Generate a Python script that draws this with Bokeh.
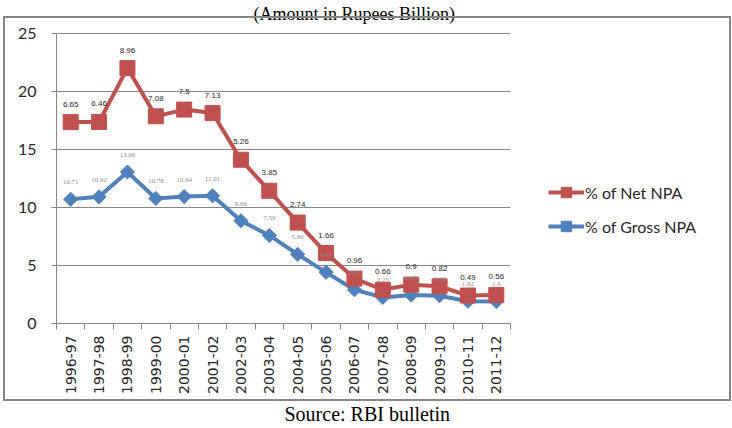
import numpy as np
from bokeh.plotting import figure
from bokeh.models import (ColumnDataSource, Range1d, FixedTicker, Legend, LegendItem,
                          LabelSet, Label, Title, InlineStyleSheet)
from bokeh.core.properties import value
from bokeh.transform import stack
from bokeh.embed import file_html
from bokeh.resources import INLINE

# ---- data ----
years = ["1996-97", "1997-98", "1998-99", "1999-00", "2000-01", "2001-02",
         "2002-03", "2003-04", "2004-05", "2005-06", "2006-07", "2007-08",
         "2008-09", "2009-10", "2010-11", "2011-12"]
gross_npa = [10.71, 10.92, 13.06, 10.78, 10.94, 11.01, 8.86, 7.59,
             5.96, 4.41, 2.91, 2.25, 2.45, 2.39, 1.92, 1.9]
net_npa = [6.65, 6.46, 8.96, 7.08, 7.5, 7.13, 5.26, 3.85,
           2.74, 1.66, 0.96, 0.66, 0.9, 0.82, 0.49, 0.56]
y_ticks = [0, 5, 10, 15, 20, 25]
title_text = "(Amount in Rupees Billion)"
source_text = "Source: RBI bulletin"
net_label = "% of Net NPA"
gross_label = "% of Gross NPA"

RED = "#C0504D"
BLUE = "#4F81BD"
AXIS = "#868686"

# ---- layout constants (pixels) ----
W, H = 732, 428
PLOT_L, PLOT_R, PLOT_T, PLOT_B = 56, 510, 33, 323   # chart area inside the frame
n = len(years)
x_end = 0.5 + n * (W - PLOT_L) / (PLOT_R - PLOT_L)   # frame extends to the right edge
y_end = y_ticks[-1] * PLOT_B / (PLOT_B - PLOT_T)      # frame extends to the top edge

pos = list(range(1, n + 1))
src = ColumnDataSource(dict(
    pos=pos, year=years, gross=gross_npa, net=net_npa,
    gross_lbl=[f"{v:g}" for v in gross_npa],
    net_lbl=[f"{v:g}" for v in net_npa],
))

border_css = InlineStyleSheet(css="""
:host::after {
  content: '';
  position: absolute;
  left: 3px; top: 16px;
  width: 728px; height: 385px;
  box-sizing: border-box;
  border: 2px solid #868686;
  pointer-events: none;
}
""")

p = figure(width=W, height=H, output_backend="svg", toolbar_location=None,
           x_range=Range1d(0.5, x_end), y_range=Range1d(0, y_end),
           min_border_left=PLOT_L, min_border_right=0, min_border_top=0,
           min_border_bottom=H - PLOT_B, stylesheets=[border_css])
p.outline_line_color = None
p.background_fill_color = "white"
p.border_fill_color = "white"
p.grid.visible = False

# axes
xa = p.xaxis[0]
xa.bounds = (0.5, n + 0.5)
xa.ticker = FixedTicker(ticks=pos, minor_ticks=[v - 0.5 for v in pos] + [pos[-1] + 0.5])
xa.major_label_overrides = {i: y for i, y in zip(pos, years)}
xa.major_label_orientation = np.pi / 2
xa.major_tick_line_color = None
xa.minor_tick_line_color = AXIS
xa.minor_tick_in = 0
xa.minor_tick_out = 6
xa.axis_line_color = AXIS
xa.major_label_text_font = "DejaVu Sans"
xa.major_label_text_font_size = "14px"
xa.major_label_text_color = "#262626"
xa.major_label_standoff = 6

ya = p.yaxis[0]
ya.bounds = (y_ticks[0], y_ticks[-1])
ya.ticker = FixedTicker(ticks=y_ticks)
ya.minor_tick_line_color = None
ya.major_tick_in = 0
ya.major_tick_out = 5
ya.major_tick_line_color = AXIS
ya.axis_line_color = AXIS
ya.major_label_text_font = "Lato"
ya.major_label_text_font_size = "16px"
ya.major_label_text_color = "#262626"
ya.major_label_standoff = 15

# horizontal gridlines over the category span only
p.segment(x0=[0.5] * len(y_ticks), x1=[n + 0.5] * len(y_ticks), y0=y_ticks, y1=y_ticks,
          line_color=AXIS, line_width=1, level="underlay")

# series
bl = p.line("pos", "gross", source=src, line_color=BLUE, line_width=4)
bs = p.scatter("pos", "gross", source=src, marker="square", angle=np.pi / 4,
               size=10, fill_color=BLUE, line_color=BLUE)
rl = p.line("pos", stack("gross", "net"), source=src, line_color=RED, line_width=4)
rs = p.scatter("pos", stack("gross", "net"), source=src, marker="square",
               size=15, fill_color=RED, line_color=RED)

# data labels
p.add_layout(LabelSet(x="pos", y="gross", text="gross_lbl", source=src,
                      text_align="center", text_baseline="middle", y_offset=17,
                      text_font=value("Liberation Serif"), text_font_size="7px",
                      text_color="#8c8c8c"))
p.add_layout(LabelSet(x="pos", y=stack("gross", "net"), text="net_lbl", source=src,
                      text_align="center", text_baseline="middle", y_offset=18,
                      text_font=value("Liberation Sans"), text_font_size="8px",
                      text_color="#262626"))

# legend (to the right of the chart area)
legend = Legend(items=[LegendItem(label=net_label, renderers=[rl, rs]),
                       LegendItem(label=gross_label, renderers=[bl, bs])],
                location=(492, 84), border_line_color=None,
                background_fill_alpha=0, glyph_width=36, glyph_height=26,
                label_height=26, spacing=8, padding=0, margin=0,
                label_standoff=1, label_text_font="Lato",
                label_text_font_size="16px", label_text_color="#262626")
p.add_layout(legend, "center")

# title at the top and source below
p.add_layout(Label(x=253 - PLOT_L, y=PLOT_B - 13, x_units="screen", y_units="screen",
                   text=title_text, text_align="left", text_baseline="alphabetic",
                   text_font="Liberation Serif", text_font_size="18px",
                   text_color="black"))
p.add_layout(Title(text=source_text, align="left", offset=228, standoff=8,
                   text_font="Liberation Serif", text_font_size="20px",
                   text_font_style="normal", text_color="black"), "below")

open("out.html", "w").write(file_html(p, INLINE))
